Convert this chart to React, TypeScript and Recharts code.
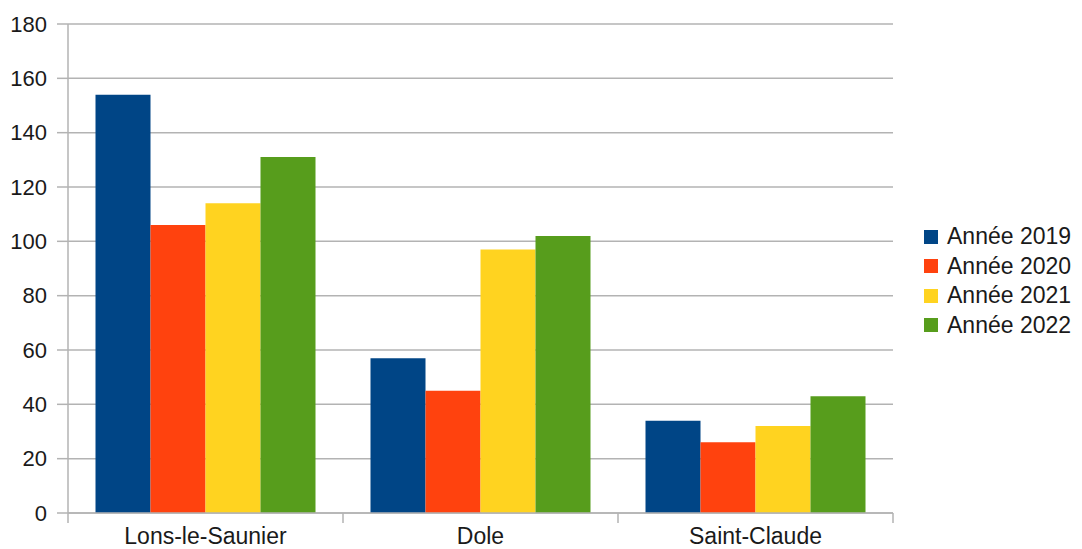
import { Bar, BarChart, CartesianGrid, Legend, XAxis, YAxis } from 'recharts'

const villes = ['Lons-le-Saunier', 'Dole', 'Saint-Claude']
const annee2019 = [154, 57, 34]
const annee2020 = [106, 45, 26]
const annee2021 = [114, 97, 32]
const annee2022 = [131, 102, 43]
const graduations = [0, 20, 40, 60, 80, 100, 120, 140, 160, 180]

const series = [
  { cle: 'a2019', nom: 'Année 2019', couleur: '#004586' },
  { cle: 'a2020', nom: 'Année 2020', couleur: '#ff420e' },
  { cle: 'a2021', nom: 'Année 2021', couleur: '#ffd320' },
  { cle: 'a2022', nom: 'Année 2022', couleur: '#579d1c' },
]

const donnees = villes.map((v, i) => ({
  ville: v,
  a2019: annee2019[i],
  a2020: annee2020[i],
  a2021: annee2021[i],
  a2022: annee2022[i],
}))

const GRIS = '#b3b3b3'
const TEXTE = '#1a1a1a'
const POLICE = '"Liberation Sans", Arial, sans-serif'

// étiquette de catégorie + petits traits aux limites des catégories
function TickVille(props: any) {
  const { x, y, payload, index } = props
  const demi = payload?.offset ?? 137.5
  return (
    <g>
      {index === 0 && <line x1={x - demi} x2={x - demi} y1={y - 8} y2={y + 2} stroke={GRIS} strokeWidth={1.5} />}
      <line x1={x + demi} x2={x + demi} y1={y - 8} y2={y + 2} stroke={GRIS} strokeWidth={1.5} />
      <text x={x} y={y + 23} textAnchor="middle" fill={TEXTE} fontSize={23} fontFamily={POLICE}>
        {payload.value}
      </text>
    </g>
  )
}

function Legende() {
  return (
    <div style={{ fontFamily: POLICE, fontSize: 23, color: TEXTE }}>
      {series.map((s) => (
        <div key={s.cle} style={{ display: 'flex', alignItems: 'center', height: 29.5 }}>
          <span style={{ display: 'inline-block', width: 14, height: 14, background: s.couleur, marginRight: 9 }} />
          <span>{s.nom}</span>
        </div>
      ))}
    </div>
  )
}

export default function App() {
  return (
    <div style={{ position: 'absolute', left: 0, top: 0, width: 1082, height: 549, background: '#fff' }}>
      <BarChart
        width={1082}
        height={549}
        data={donnees}
        margin={{ top: 24, right: 189, bottom: 0, left: 0 }}
        barGap={0}
        barCategoryGap="10%"
      >
        <CartesianGrid vertical={false} stroke={GRIS} strokeWidth={1.5} />
        <XAxis
          dataKey="ville"
          height={36}
          tickSize={8}
          tickMargin={0}
          tickLine={false}
          axisLine={{ stroke: GRIS, strokeWidth: 1.5 }}
          tick={<TickVille />}
          interval={0}
        />
        <YAxis
          width={68}
          domain={[0, 180]}
          ticks={graduations}
          interval={0}
          tickSize={11}
          tickMargin={10}
          tickLine={{ stroke: GRIS, strokeWidth: 1.5 }}
          axisLine={{ stroke: GRIS, strokeWidth: 1.5 }}
          tick={{ fill: TEXTE, fontSize: 22, fontFamily: POLICE }}
        />
        <YAxis
          yAxisId="bord"
          orientation="right"
          width={0}
          tick={false}
          tickLine={false}
          axisLine={{ stroke: GRIS, strokeWidth: 1.5 }}
        />
        <Legend
          layout="vertical"
          align="center"
          verticalAlign="middle"
          wrapperStyle={{ left: 924, top: 222, width: 158 }}
          content={<Legende />}
        />
        {series.map((s) => (
          <Bar key={s.cle} dataKey={s.cle} name={s.nom} fill={s.couleur} isAnimationActive={false} />
        ))}
      </BarChart>
    </div>
  )
}
